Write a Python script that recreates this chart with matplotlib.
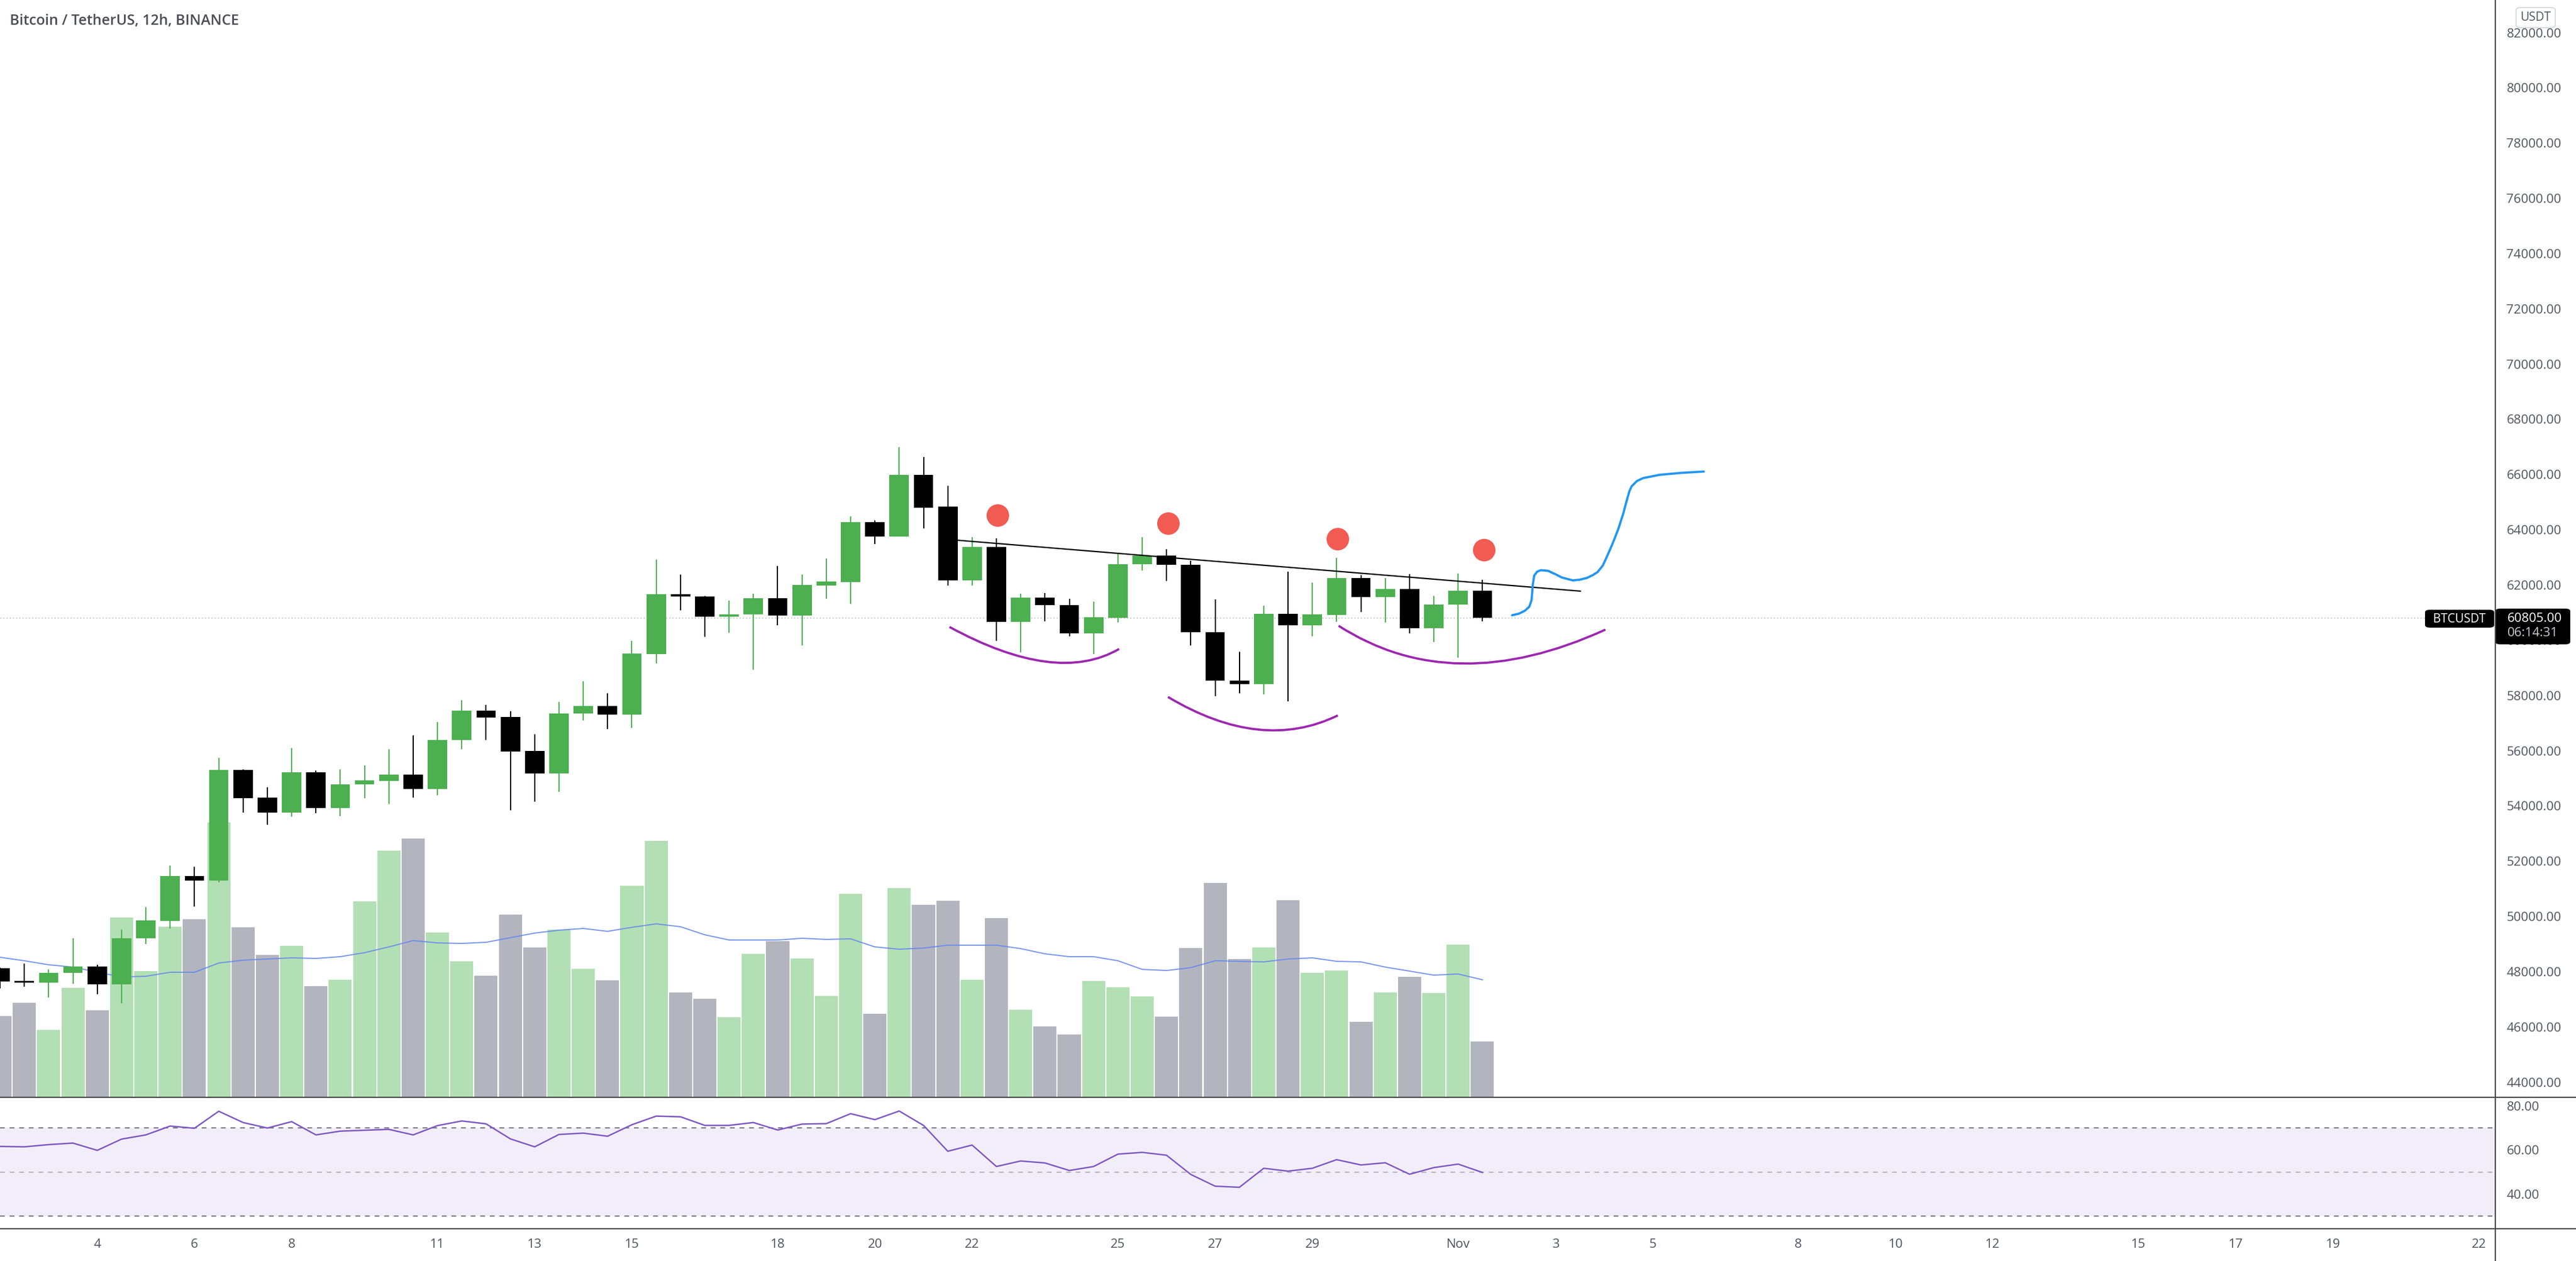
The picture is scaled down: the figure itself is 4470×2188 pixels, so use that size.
import matplotlib
matplotlib.use('Agg')
import matplotlib.pyplot as plt
from matplotlib.patches import FancyBboxPatch, PathPatch
from matplotlib.path import Path
from matplotlib.lines import Line2D
import numpy as np

W, H = 4470, 2188
plt.rcParams['font.family'] = ['Open Sans', 'DejaVu Sans']

# ---- 12h candles, Oct 2 00:00 .. Nov 1 12:00 ----
opens = [48126, 47650, 47607, 47953, 48186, 47546, 49207, 49839, 51457, 51284,
         55298, 54303, 53767, 55220, 53931, 54770, 54909, 55130, 54619, 56376,
         57449, 57224, 55987, 55182, 57353, 57613, 57310, 59499, 61662, 61584,
         60857, 60927, 61515, 60901, 61984, 62105, 64277, 63758, 65981, 64839,
         62174, 63368, 60669, 61543, 61266, 60254, 60816, 62746, 63057, 62728,
         60297, 58541, 58402, 60954, 60548, 60911, 62252, 61569, 61854, 60444,
         61284, 61794]
highs = [48150, 48299, 48082, 49207, 48256, 49519, 50332, 51846, 51803, 55740,
         55320, 54675, 56094, 55270, 55324, 55471, 56051, 56549, 57042, 57829,
         57656, 57431, 56592, 57760, 58521, 58072, 59975, 62917, 62372, 61610,
         61446, 61697, 62692, 62370, 62970, 64484, 64346, 66985, 66630, 65583,
         63732, 63689, 61681, 61716, 61500, 61387, 63161, 63723, 63291, 62884,
         61474, 59588, 61240, 62477, 62079, 62988, 62356, 62252, 62391, 61595,
         62417, 62183]
lows = [47399, 47460, 47053, 47563, 47191, 46854, 48991, 49562, 50349, 51223,
        53767, 53326, 53602, 53741, 53637, 54286, 54061, 54308, 54386, 56056,
        56376, 53849, 54144, 54498, 57094, 56791, 56834, 59170, 61091, 60122,
        60278, 58937, 60546, 59815, 61508, 61301, 63472, 63750, 64035, 61984,
        61984, 59986, 59553, 60695, 60133, 59501, 60634, 62512, 62149, 59804,
        57978, 58082, 58039, 57788, 60150, 60669, 61024, 60652, 60254, 59925,
        59380, 60695]
closes = [47650, 47610, 47953, 48186, 47546, 49207, 49856, 51457, 51284, 55298,
          54286, 53767, 55220, 53931, 54779, 54926, 55143, 54619, 56384, 57449,
          57206, 55978, 55182, 57345, 57613, 57310, 59516, 61662, 61576, 60857,
          60935, 61515, 60901, 62000, 62122, 64277, 63758, 65981, 64805, 62174,
          63368, 60669, 61543, 61266, 60254, 60825, 62754, 63074, 62720, 60297,
          58541, 58402, 60954, 60548, 60937, 62252, 61569, 61854, 60444, 61292,
          61794, 60805]
# volume (arbitrary units, thousands) and its moving average as drawn
volume = [14.1, 16.4, 11.7, 19.0, 15.1, 31.2, 21.9, 29.6, 30.9, 47.7,
          29.5, 24.7, 26.3, 19.3, 20.4, 34.0, 42.8, 44.9, 28.6, 23.6,
          21.1, 31.7, 26.0, 29.1, 22.3, 20.3, 36.7, 44.5, 18.2, 17.1,
          13.9, 24.9, 27.1, 24.1, 17.6, 35.3, 14.5, 36.3, 33.4, 34.1,
          20.4, 31.1, 15.2, 12.3, 10.9, 20.2, 19.1, 17.5, 14.0, 25.9,
          37.2, 24.0, 26.0, 34.2, 21.6, 22.0, 13.1, 18.2, 20.9, 18.1,
          26.5, 9.7]
volume_ma = [24.3, 23.7, 23.0, 22.6, 21.7, 20.9, 21.0, 21.7, 21.7, 23.3,
             23.8, 24.0, 24.2, 24.1, 24.4, 25.1, 26.1, 27.2, 26.8, 26.7,
             26.9, 27.7, 28.5, 29.0, 29.3, 28.8, 29.5, 30.1, 29.6, 28.2,
             27.3, 27.3, 27.3, 27.6, 27.4, 27.5, 26.1, 25.7, 25.9, 26.4,
             26.4, 26.4, 25.8, 24.9, 24.4, 24.4, 23.7, 22.2, 22.0, 22.5,
             23.7, 23.6, 23.5, 24.0, 24.2, 23.6, 23.5, 22.6, 21.9, 21.2,
             21.4, 20.4]
rsi = [61.6, 61.4, 62.4, 63.1, 59.8, 64.9, 66.8, 70.8, 69.8, 77.5,
       72.4, 69.9, 72.8, 66.8, 68.5, 68.9, 69.3, 66.8, 71.0, 73.1,
       71.8, 65.0, 61.4, 67.0, 67.6, 66.2, 71.4, 75.3, 75.0, 71.1,
       71.1, 72.4, 69.0, 71.7, 71.9, 76.4, 73.7, 77.6, 71.1, 59.4,
       62.2, 52.5, 55.0, 54.1, 50.7, 52.5, 58.1, 58.9, 57.6, 48.9,
       43.6, 43.1, 51.7, 50.4, 51.7, 55.6, 53.2, 54.2, 49.0, 52.0,
       53.6, 49.8]
last_price = 60805.00

# time axis: bar index of each labelled day (00:00)
day_ticks = [4, 8, 12, 18, 22, 26, 32, 36, 40, 46, 50, 54, 60, 64, 68, 74, 78, 82, 88, 92, 96, 102]
day_labels = ['4', '6', '8', '11', '13', '15', '18', '20', '22', '25', '27', '29',
              'Nov', '3', '5', '8', '10', '12', '15', '17', '19', '22']

# drawings (bar index, price)
neckline = [(39.41, 63619), (65.03, 61776)]
red_dots_x = [41.05, 48.06, 55.05, 61.05]
red_dots_y = [64528, 64225, 63671, 63265]
arcs = [
    [(39.07, 60479), (43.02, 59224), (46.05, 59683)],
    [(48.06, 57944), (51.73, 56767), (55.05, 57277)],
    [(55.08, 60522), (60.18, 59155), (66.06, 60383)],
]
brush = [(62.22, 60903), (62.50, 60960), (62.75, 61070), (62.93, 61214), (63.02, 61450),
         (63.05, 61750), (63.07, 61993), (63.13, 62339), (63.25, 62480), (63.40, 62535),
         (63.70, 62512), (64.00, 62390), (64.27, 62270), (64.72, 62166), (65.00, 62190),
         (65.29, 62252), (65.55, 62360), (65.74, 62469), (65.95, 62700), (66.08, 62944),
         (66.25, 63280), (66.40, 63594), (66.59, 64024), (66.80, 64600), (66.93, 65034),
         (67.05, 65400), (67.14, 65571), (67.35, 65760), (67.61, 65869), (68.29, 65988),
         (69.20, 66060), (70.11, 66107)]

GREEN = '#4caf50'
BLACK = '#000000'
TXT = '#50535e'


def fx(px):
    return px / W


def fy(py):
    return 1 - py / H


fig = plt.figure(figsize=(W / 100, H / 100), dpi=100)
fig.patch.set_facecolor('white')

rect_price = [0, fy(1904), fx(4330), fy(0) - fy(1904)]
ax_vol = fig.add_axes(rect_price)
ax = fig.add_axes(rect_price)
ax.set_facecolor('none')
ax_rsi = fig.add_axes([0, fy(2132), fx(4330), fy(1904) - fy(2132)])

n = len(opens)
x = np.arange(n)
o = np.array(opens, float)
c = np.array(closes, float)
up = c >= o
XLIM = (-0.002, 102.68)

# volume
vcol = ['#b2dfb3' if u else '#b2b5be' for u in up]
ax_vol.bar(x, volume, width=0.95, color=vcol, linewidth=0)
ax_vol.plot(x, volume_ma, color='#6688f0', lw=1.4, alpha=0.9)
ax_vol.set_xlim(*XLIM)
ax_vol.set_ylim(0, 190.4)
ax_vol.axis('off')

# candles
ccol = [GREEN if u else BLACK for u in up]
ax.vlines(x, lows, highs, colors=ccol, lw=1.5, zorder=2)
body_lo = np.minimum(o, c)
body_h = np.maximum(np.abs(c - o), 45)
ax.bar(x, body_h, bottom=body_lo, width=0.8, color=ccol, linewidth=0, zorder=3)

# current price line
ax.axhline(last_price, xmax=4208 / 4330, color='#9598a1', lw=1, ls=(0, (1, 3)), zorder=1)

# drawings
ax.plot([p[0] for p in neckline], [p[1] for p in neckline], color='black', lw=1.6, zorder=4)
for a in arcs:
    p0, m, p2 = [np.array(p) for p in a]
    p1 = 2 * m - (p0 + p2) / 2
    path = Path([p0, p1, p2], [Path.MOVETO, Path.CURVE3, Path.CURVE3])
    ax.add_patch(PathPatch(path, fill=False, ec='#9c27b0', lw=2.8, capstyle='butt', zorder=4))
ax.plot([p[0] for p in brush], [p[1] for p in brush], color='#2196f3', lw=2.8,
        solid_capstyle='round', solid_joinstyle='round', zorder=4)
ax.scatter(red_dots_x, red_dots_y, s=790, color='#f15b52', linewidths=0, zorder=5)

ax.set_xlim(*XLIM)
ax.set_ylim(43448, 83181)
yt = np.arange(44000, 82001, 2000)
ax.set_yticks(yt)
ax.set_yticklabels([f'{v:.2f}' for v in yt])
ax.yaxis.tick_right()
ax.tick_params(axis='y', length=0, pad=14, labelsize=16, labelcolor=TXT)
ax.set_xticks([])
for s in ax.spines.values():
    s.set_visible(False)

# RSI pane
ax_rsi.axhspan(30, 70, color='#f2eef9', lw=0, zorder=0)
ax_rsi.axhline(70, color='#787b86', lw=1.5, ls=(0, (4, 4)))
ax_rsi.axhline(50, color='#787b86', lw=1.5, ls=(0, (4, 4)), alpha=0.5)
ax_rsi.axhline(30, color='#787b86', lw=1.5, ls=(0, (4, 4)))
ax_rsi.plot(x, rsi, color='#7e57c2', lw=1.8, zorder=3)
ax_rsi.set_xlim(*XLIM)
ax_rsi.set_ylim(24.35, 83.8)
ax_rsi.set_yticks([40, 60, 80])
ax_rsi.set_yticklabels(['40.00', '60.00', '80.00'])
ax_rsi.yaxis.tick_right()
ax_rsi.tick_params(axis='y', length=0, pad=14, labelsize=16, labelcolor=TXT)
ax_rsi.set_xticks(day_ticks)
ax_rsi.set_xticklabels(day_labels)
ax_rsi.tick_params(axis='x', length=0, pad=12, labelsize=16, labelcolor=TXT)
for s in ax_rsi.spines.values():
    s.set_visible(False)

# pane separators and price scale border
sep = '#4a4a4a'
fig.add_artist(Line2D([0, 1], [fy(1904), fy(1904)], transform=fig.transFigure, color=sep, lw=1.6))
fig.add_artist(Line2D([0, 1], [fy(2132), fy(2132)], transform=fig.transFigure, color=sep, lw=1.6))
fig.add_artist(Line2D([fx(4330), fx(4330)], [0, 1], transform=fig.transFigure, color=sep, lw=1.6))

# title
fig.text(fx(17), fy(37), 'Bitcoin / TetherUS, 12h, BINANCE', fontsize=18,
         fontweight='semibold', color='#4a4d57', ha='left', va='center')

# currency badge
fig.add_artist(FancyBboxPatch((fx(4366), fy(48)), fx(68), fy(13) - fy(48),
                              boxstyle='round,pad=0,rounding_size=0.002',
                              transform=fig.transFigure, fc='white', ec='#d1d4dc', lw=1.2))
fig.text(fx(4400), fy(31), 'USDT', fontsize=15, color=TXT, ha='center', va='center')

# last price labels
fig.add_artist(FancyBboxPatch((fx(4330), fy(1118)), fx(130), fy(1056) - fy(1118),
                              boxstyle='round,pad=0,rounding_size=0.002',
                              transform=fig.transFigure, fc='black', ec='none'))
fig.text(fx(4351), fy(1073), f'{last_price:.2f}', fontsize=16, color='white', ha='left', va='center')
fig.text(fx(4351), fy(1099), '06:14:31', fontsize=16, color='#c8cad0', ha='left', va='center')
fig.add_artist(FancyBboxPatch((fx(4208), fy(1089)), fx(120), fy(1058) - fy(1089),
                              boxstyle='round,pad=0,rounding_size=0.002',
                              transform=fig.transFigure, fc='black', ec='none'))
fig.text(fx(4268), fy(1074), 'BTCUSDT', fontsize=15, color='white', ha='center', va='center')

fig.savefig('out.png', dpi=100, facecolor='white')
